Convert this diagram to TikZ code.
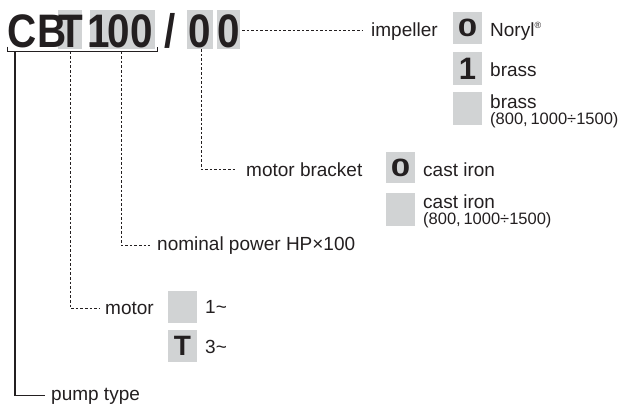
\documentclass[tikz,border=0pt]{standalone}
\usepackage{fontspec}
\setmainfont{Liberation Sans}
\usetikzlibrary{calc}
\definecolor{ink}{RGB}{35,31,32}
\definecolor{boxgray}{RGB}{209,211,212}
\newcommand{\hg}[1]{\scalebox{0.86}[1]{#1}}
\begin{document}
\begin{tikzpicture}[x=1pt,y=-1pt,
  hdr/.style={inner sep=0pt,anchor=base,text=ink,font=\fontsize{47}{47}\selectfont\bfseries},
  lbl/.style={inner sep=0pt,anchor=base west,text=ink,font=\fontsize{19}{19}\selectfont},
  sml/.style={inner sep=0pt,anchor=base west,text=ink,font=\fontsize{16.5}{16.5}\selectfont},
  dl/.style={draw=ink,line width=0.9pt,dash pattern=on 2.6pt off 2pt},
  sl/.style={draw=ink,line width=1.2pt}]
\useasboundingbox (0,0) rectangle (624,405);
% header grey boxes
\fill[boxgray] (58,10) rectangle (82,49);
\fill[boxgray] (90,10) rectangle (155,49);
\fill[boxgray] (187,10) rectangle (213,49);
\fill[boxgray] (217,10) rectangle (240,49);
% header glyphs
\node[hdr] (hC) at (22,47) {\hg{C}};
\node[hdr] (hB) at (52,47) {\hg{B}};
\node[hdr] (hT) at (71,47) {\hg{T}};
\node[hdr] (h1) at (99,47) {\hg{1}};
\node[hdr] (h0a) at (118.5,47) {\hg{0}};
\node[hdr] (h0b) at (142,47) {\hg{0}};
\node[hdr] (hs) at (170.5,47) {\hg{/}};
\node[hdr] (hm) at (200,47) {\hg{0}};
\node[hdr] (hi) at (228.5,47) {\hg{0}};
% bracket
\coordinate (brL) at (7,46.5);
\coordinate (brR) at (157,46.5);
\draw[sl,line width=1pt] (brL) -- ++(0,5) -- ($(brR)+(0,5)$) -- (brR);
% labels
\node[lbl] (pump) at (51,400) {pump type};
\node[lbl] (motor) at (105,314) {motor};
\node[lbl] (power) at (157,250) {nominal power HP×100};
\node[lbl] (bracket) at (246,176) {motor bracket};
\node[lbl] (impeller) at (371,36) {impeller};
% connectors
\coordinate (sPump) at (15,51.5);
\coordinate (sMotor) at (70,51.5);
\coordinate (sPower) at (121,51.5);
\coordinate (sBracket) at (201,49);
\coordinate (sImp) at (242,30);
\draw[sl] (sPump) |- ([xshift=-6pt]pump.west);
\draw[dl] (sMotor) |- ([xshift=-5pt]motor.west);
\draw[dl] (sPower) |- ([xshift=-7pt]power.west);
\draw[dl] (sBracket) |- ([xshift=-10pt]bracket.west);
\draw[dl] (sImp) -- ([xshift=-9pt]impeller.west |- sImp);
% impeller options
\fill[boxgray] (453,12) rectangle (482,44);
\node[inner sep=0pt,text=ink,font=\fontsize{25}{25}\selectfont\bfseries] (i0) at (467.5,28) {\scalebox{1.4}[1]{0}};
\node[lbl] (noryl) at (490,36) {Noryl\raisebox{0.42em}{\fontsize{9}{9}\selectfont ®}};
\fill[boxgray] (453,52) rectangle (482,85);
\node[inner sep=0pt,text=ink,font=\fontsize{31}{31}\selectfont\bfseries] (i1) at (467.5,68.5) {1};
\node[lbl] (brass1) at (490,76) {brass};
\fill[boxgray] (453,92) rectangle (482,125);
\node[lbl] (brass2) at (490,108) {brass};
\node[sml] (brass2b) at (490,124) {(800,\,1000÷1500)};
% bracket options
\fill[boxgray] (386,152) rectangle (415,183);
\node[inner sep=0pt,text=ink,font=\fontsize{25}{25}\selectfont\bfseries] (b0) at (400.5,167.5) {\scalebox{1.4}[1]{0}};
\node[lbl] (ci1) at (423,176) {cast iron};
\fill[boxgray] (386,193) rectangle (415,226);
\node[lbl] (ci2) at (423,208) {cast iron};
\node[sml] (ci2b) at (423,224) {(800,\,1000÷1500)};
% motor options
\fill[boxgray] (168,291) rectangle (197,323);
\node[lbl] (m1) at (205,313) {1\textasciitilde};
\fill[boxgray] (168,330) rectangle (197,362);
\node[inner sep=0pt,text=ink,font=\fontsize{28}{28}\selectfont\bfseries] (mT) at (182.5,346) {T};
\node[lbl] (m3) at (205,353) {3\textasciitilde};
\end{tikzpicture}
\end{document}
